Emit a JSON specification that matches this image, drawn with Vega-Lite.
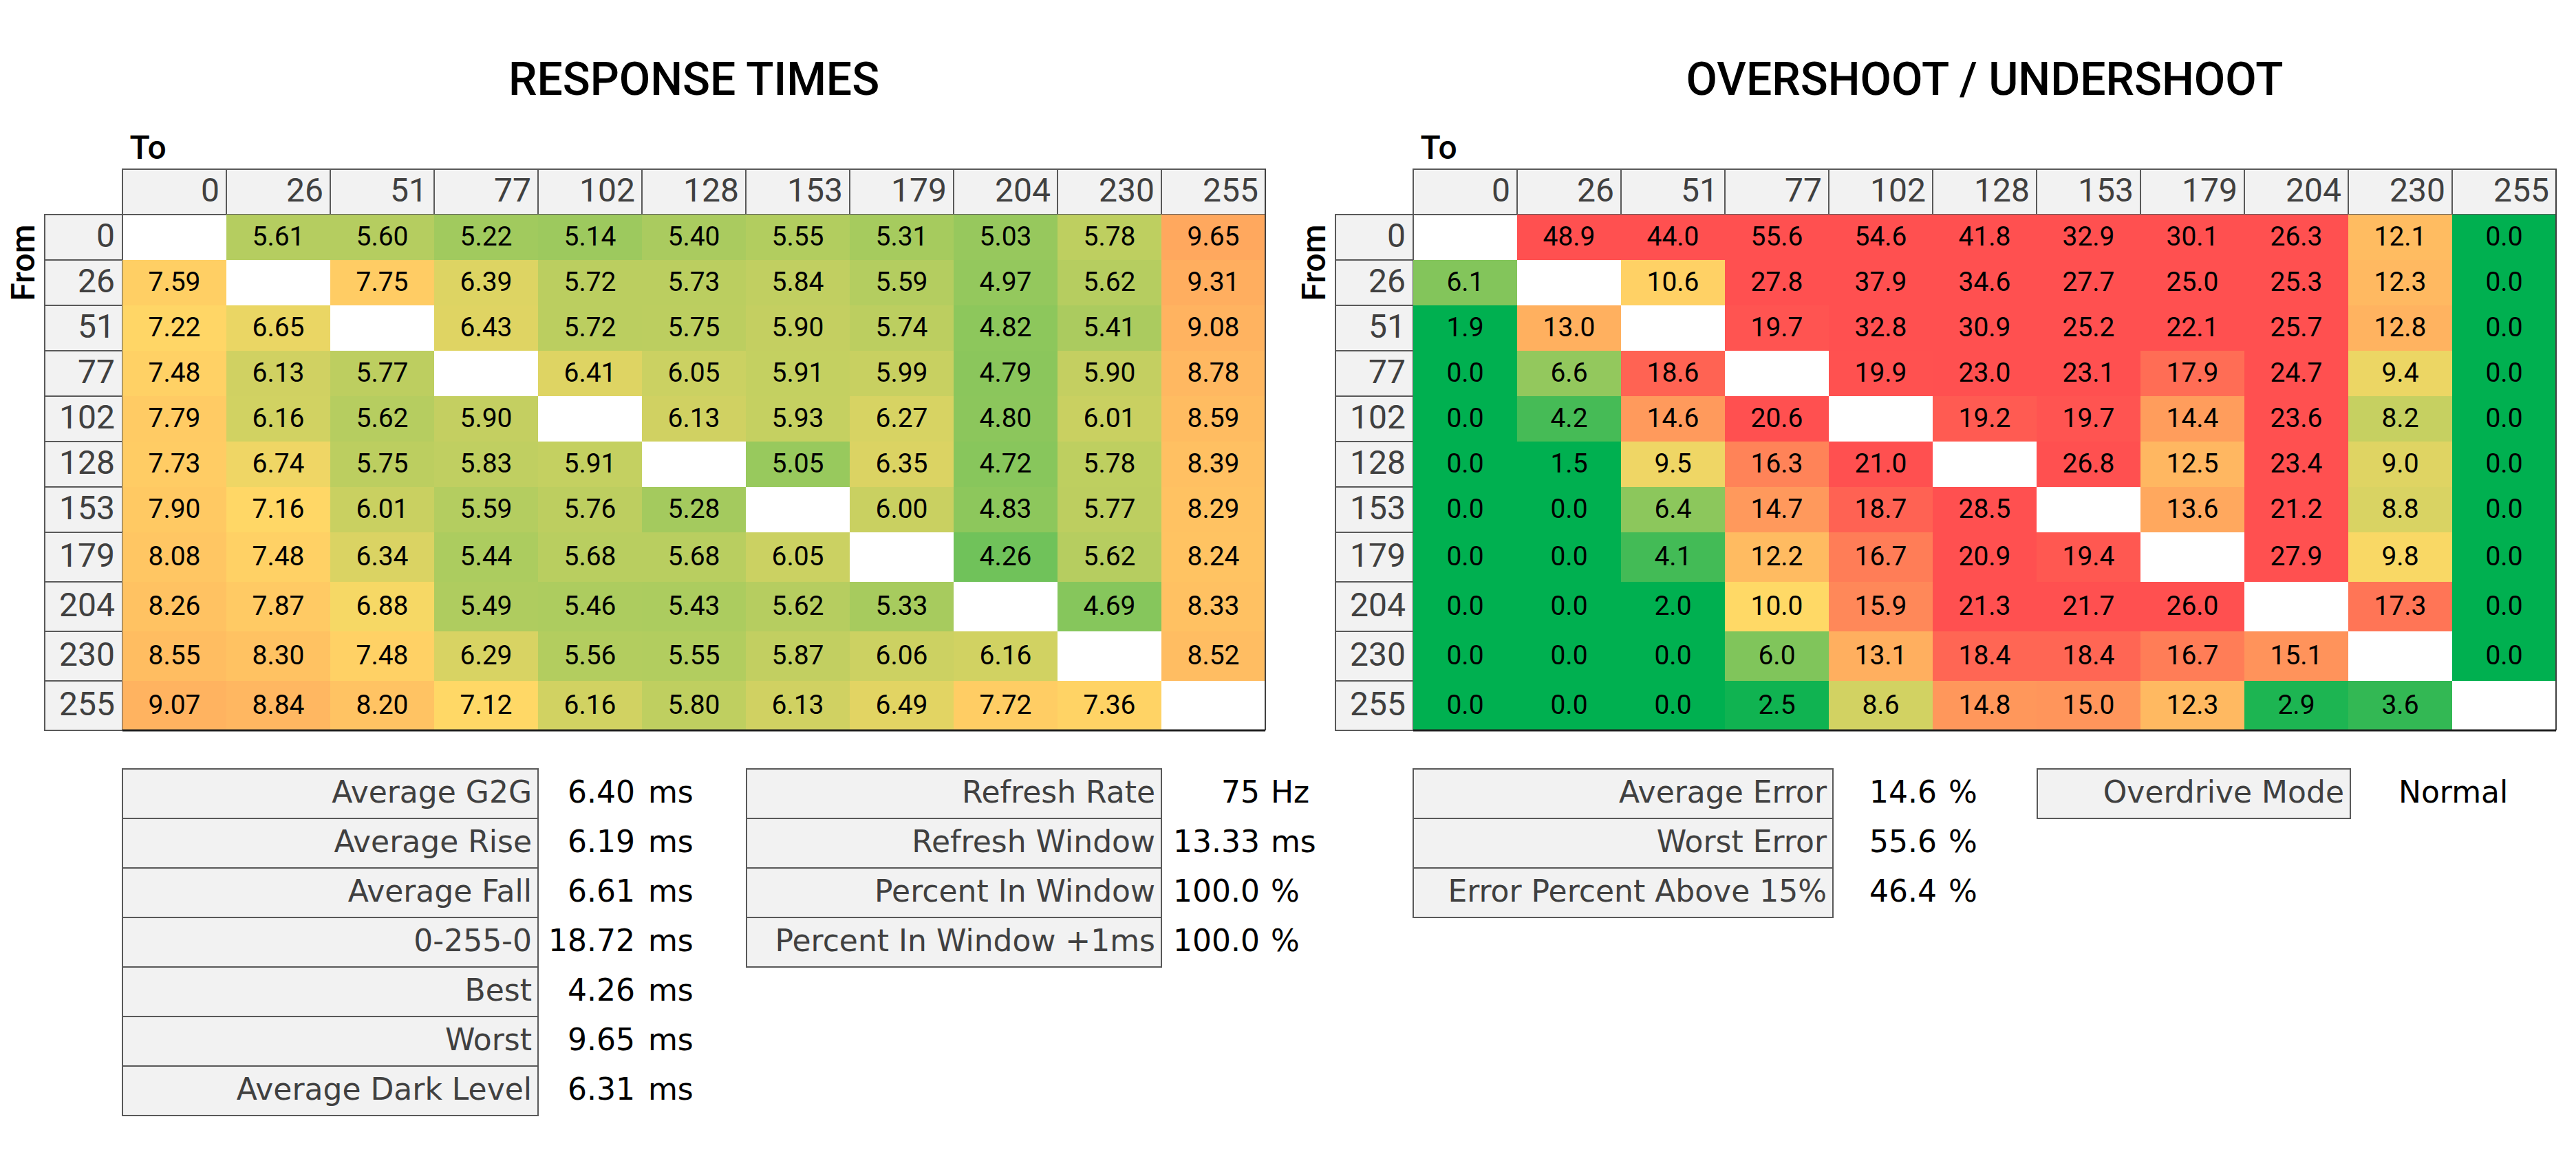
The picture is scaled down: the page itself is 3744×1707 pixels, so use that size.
{
"$schema": "https://vega.github.io/schema/vega-lite/v6.json",
"background": "white",
"padding": {"left": 10, "top": 85, "right": 10, "bottom": 10},
"bounds": "flush",
"align": "each",
"columns": 5,
"spacing": 0,
"resolve": {"scale": {"color": "independent", "x": "independent", "y": "independent"}},
"config": {"view": {"stroke": null}, "font": "Roboto"},
"datasets": {
"lv": [{"lvl":"0"},{"lvl":"26"},{"lvl":"51"},{"lvl":"77"},{"lvl":"102"},{"lvl":"128"},{"lvl":"153"},{"lvl":"179"},{"lvl":"204"},{"lvl":"230"},{"lvl":"255"}],
"rt": [
{"from":"0","to":"26","v":5.61},{"from":"0","to":"51","v":5.60},{"from":"0","to":"77","v":5.22},{"from":"0","to":"102","v":5.14},{"from":"0","to":"128","v":5.40},{"from":"0","to":"153","v":5.55},{"from":"0","to":"179","v":5.31},{"from":"0","to":"204","v":5.03},{"from":"0","to":"230","v":5.78},{"from":"0","to":"255","v":9.65},
{"from":"26","to":"0","v":7.59},{"from":"26","to":"51","v":7.75},{"from":"26","to":"77","v":6.39},{"from":"26","to":"102","v":5.72},{"from":"26","to":"128","v":5.73},{"from":"26","to":"153","v":5.84},{"from":"26","to":"179","v":5.59},{"from":"26","to":"204","v":4.97},{"from":"26","to":"230","v":5.62},{"from":"26","to":"255","v":9.31},
{"from":"51","to":"0","v":7.22},{"from":"51","to":"26","v":6.65},{"from":"51","to":"77","v":6.43},{"from":"51","to":"102","v":5.72},{"from":"51","to":"128","v":5.75},{"from":"51","to":"153","v":5.90},{"from":"51","to":"179","v":5.74},{"from":"51","to":"204","v":4.82},{"from":"51","to":"230","v":5.41},{"from":"51","to":"255","v":9.08},
{"from":"77","to":"0","v":7.48},{"from":"77","to":"26","v":6.13},{"from":"77","to":"51","v":5.77},{"from":"77","to":"102","v":6.41},{"from":"77","to":"128","v":6.05},{"from":"77","to":"153","v":5.91},{"from":"77","to":"179","v":5.99},{"from":"77","to":"204","v":4.79},{"from":"77","to":"230","v":5.90},{"from":"77","to":"255","v":8.78},
{"from":"102","to":"0","v":7.79},{"from":"102","to":"26","v":6.16},{"from":"102","to":"51","v":5.62},{"from":"102","to":"77","v":5.90},{"from":"102","to":"128","v":6.13},{"from":"102","to":"153","v":5.93},{"from":"102","to":"179","v":6.27},{"from":"102","to":"204","v":4.80},{"from":"102","to":"230","v":6.01},{"from":"102","to":"255","v":8.59},
{"from":"128","to":"0","v":7.73},{"from":"128","to":"26","v":6.74},{"from":"128","to":"51","v":5.75},{"from":"128","to":"77","v":5.83},{"from":"128","to":"102","v":5.91},{"from":"128","to":"153","v":5.05},{"from":"128","to":"179","v":6.35},{"from":"128","to":"204","v":4.72},{"from":"128","to":"230","v":5.78},{"from":"128","to":"255","v":8.39},
{"from":"153","to":"0","v":7.90},{"from":"153","to":"26","v":7.16},{"from":"153","to":"51","v":6.01},{"from":"153","to":"77","v":5.59},{"from":"153","to":"102","v":5.76},{"from":"153","to":"128","v":5.28},{"from":"153","to":"179","v":6.00},{"from":"153","to":"204","v":4.83},{"from":"153","to":"230","v":5.77},{"from":"153","to":"255","v":8.29},
{"from":"179","to":"0","v":8.08},{"from":"179","to":"26","v":7.48},{"from":"179","to":"51","v":6.34},{"from":"179","to":"77","v":5.44},{"from":"179","to":"102","v":5.68},{"from":"179","to":"128","v":5.68},{"from":"179","to":"153","v":6.05},{"from":"179","to":"204","v":4.26},{"from":"179","to":"230","v":5.62},{"from":"179","to":"255","v":8.24},
{"from":"204","to":"0","v":8.26},{"from":"204","to":"26","v":7.87},{"from":"204","to":"51","v":6.88},{"from":"204","to":"77","v":5.49},{"from":"204","to":"102","v":5.46},{"from":"204","to":"128","v":5.43},{"from":"204","to":"153","v":5.62},{"from":"204","to":"179","v":5.33},{"from":"204","to":"230","v":4.69},{"from":"204","to":"255","v":8.33},
{"from":"230","to":"0","v":8.55},{"from":"230","to":"26","v":8.30},{"from":"230","to":"51","v":7.48},{"from":"230","to":"77","v":6.29},{"from":"230","to":"102","v":5.56},{"from":"230","to":"128","v":5.55},{"from":"230","to":"153","v":5.87},{"from":"230","to":"179","v":6.06},{"from":"230","to":"204","v":6.16},{"from":"230","to":"255","v":8.52},
{"from":"255","to":"0","v":9.07},{"from":"255","to":"26","v":8.84},{"from":"255","to":"51","v":8.20},{"from":"255","to":"77","v":7.12},{"from":"255","to":"102","v":6.16},{"from":"255","to":"128","v":5.80},{"from":"255","to":"153","v":6.13},{"from":"255","to":"179","v":6.49},{"from":"255","to":"204","v":7.72},{"from":"255","to":"230","v":7.36}
],
"os": [
{"from":"0","to":"26","v":48.9},{"from":"0","to":"51","v":44.0},{"from":"0","to":"77","v":55.6},{"from":"0","to":"102","v":54.6},{"from":"0","to":"128","v":41.8},{"from":"0","to":"153","v":32.9},{"from":"0","to":"179","v":30.1},{"from":"0","to":"204","v":26.3},{"from":"0","to":"230","v":12.1},{"from":"0","to":"255","v":0.0},
{"from":"26","to":"0","v":6.1},{"from":"26","to":"51","v":10.6},{"from":"26","to":"77","v":27.8},{"from":"26","to":"102","v":37.9},{"from":"26","to":"128","v":34.6},{"from":"26","to":"153","v":27.7},{"from":"26","to":"179","v":25.0},{"from":"26","to":"204","v":25.3},{"from":"26","to":"230","v":12.3},{"from":"26","to":"255","v":0.0},
{"from":"51","to":"0","v":1.9},{"from":"51","to":"26","v":13.0},{"from":"51","to":"77","v":19.7},{"from":"51","to":"102","v":32.8},{"from":"51","to":"128","v":30.9},{"from":"51","to":"153","v":25.2},{"from":"51","to":"179","v":22.1},{"from":"51","to":"204","v":25.7},{"from":"51","to":"230","v":12.8},{"from":"51","to":"255","v":0.0},
{"from":"77","to":"0","v":0.0},{"from":"77","to":"26","v":6.6},{"from":"77","to":"51","v":18.6},{"from":"77","to":"102","v":19.9},{"from":"77","to":"128","v":23.0},{"from":"77","to":"153","v":23.1},{"from":"77","to":"179","v":17.9},{"from":"77","to":"204","v":24.7},{"from":"77","to":"230","v":9.4},{"from":"77","to":"255","v":0.0},
{"from":"102","to":"0","v":0.0},{"from":"102","to":"26","v":4.2},{"from":"102","to":"51","v":14.6},{"from":"102","to":"77","v":20.6},{"from":"102","to":"128","v":19.2},{"from":"102","to":"153","v":19.7},{"from":"102","to":"179","v":14.4},{"from":"102","to":"204","v":23.6},{"from":"102","to":"230","v":8.2},{"from":"102","to":"255","v":0.0},
{"from":"128","to":"0","v":0.0},{"from":"128","to":"26","v":1.5},{"from":"128","to":"51","v":9.5},{"from":"128","to":"77","v":16.3},{"from":"128","to":"102","v":21.0},{"from":"128","to":"153","v":26.8},{"from":"128","to":"179","v":12.5},{"from":"128","to":"204","v":23.4},{"from":"128","to":"230","v":9.0},{"from":"128","to":"255","v":0.0},
{"from":"153","to":"0","v":0.0},{"from":"153","to":"26","v":0.0},{"from":"153","to":"51","v":6.4},{"from":"153","to":"77","v":14.7},{"from":"153","to":"102","v":18.7},{"from":"153","to":"128","v":28.5},{"from":"153","to":"179","v":13.6},{"from":"153","to":"204","v":21.2},{"from":"153","to":"230","v":8.8},{"from":"153","to":"255","v":0.0},
{"from":"179","to":"0","v":0.0},{"from":"179","to":"26","v":0.0},{"from":"179","to":"51","v":4.1},{"from":"179","to":"77","v":12.2},{"from":"179","to":"102","v":16.7},{"from":"179","to":"128","v":20.9},{"from":"179","to":"153","v":19.4},{"from":"179","to":"204","v":27.9},{"from":"179","to":"230","v":9.8},{"from":"179","to":"255","v":0.0},
{"from":"204","to":"0","v":0.0},{"from":"204","to":"26","v":0.0},{"from":"204","to":"51","v":2.0},{"from":"204","to":"77","v":10.0},{"from":"204","to":"102","v":15.9},{"from":"204","to":"128","v":21.3},{"from":"204","to":"153","v":21.7},{"from":"204","to":"179","v":26.0},{"from":"204","to":"230","v":17.3},{"from":"204","to":"255","v":0.0},
{"from":"230","to":"0","v":0.0},{"from":"230","to":"26","v":0.0},{"from":"230","to":"51","v":0.0},{"from":"230","to":"77","v":6.0},{"from":"230","to":"102","v":13.1},{"from":"230","to":"128","v":18.4},{"from":"230","to":"153","v":18.4},{"from":"230","to":"179","v":16.7},{"from":"230","to":"204","v":15.1},{"from":"230","to":"255","v":0.0},
{"from":"255","to":"0","v":0.0},{"from":"255","to":"26","v":0.0},{"from":"255","to":"51","v":0.0},{"from":"255","to":"77","v":2.5},{"from":"255","to":"102","v":8.6},{"from":"255","to":"128","v":14.8},{"from":"255","to":"153","v":15.0},{"from":"255","to":"179","v":12.3},{"from":"255","to":"204","v":2.9},{"from":"255","to":"230","v":3.6}
],
"rtA": [
{"label":"Average G2G","num":"6.40","unit":"ms"},
{"label":"Average Rise","num":"6.19","unit":"ms"},
{"label":"Average Fall","num":"6.61","unit":"ms"},
{"label":"0-255-0","num":"18.72","unit":"ms"},
{"label":"Best","num":"4.26","unit":"ms"},
{"label":"Worst","num":"9.65","unit":"ms"},
{"label":"Average Dark Level","num":"6.31","unit":"ms"}
],
"rtB": [
{"label":"Refresh Rate","num":"75","unit":"Hz"},
{"label":"Refresh Window","num":"13.33","unit":"ms"},
{"label":"Percent In Window","num":"100.0","unit":"%"},
{"label":"Percent In Window +1ms","num":"100.0","unit":"%"}
],
"osA": [
{"label":"Average Error","num":"14.6","unit":"%"},
{"label":"Worst Error","num":"55.6","unit":"%"},
{"label":"Error Percent Above 15%","num":"46.4","unit":"%"}
],
"osB": [
{"label":"Overdrive Mode","val":"Normal"}
]
},
"concat": [
{
"width": 113, "height": 528,
"data": {"name": "lv"},
"transform": [{"filter": {"field": "lvl", "oneOf": ["0","26","51","77","102","128","153"]}}],
"encoding": {"y": {"field": "lvl", "type": "ordinal", "scale": {"type": "band", "domain": ["H","0","26","51","77","102","128","153"], "paddingInner": 0, "paddingOuter": 0},
 "axis": {"orient": "left", "title": "From", "labels": false, "ticks": false, "domain": false, "grid": false, "titleAngle": -90, "titleX": -30, "titleY": 80, "titleAlign": "right", "titleBaseline": "middle", "titleFont": "Roboto", "titleFontSize": 48, "titleFontWeight": 500, "titleColor": "#000000"}}},
"layer": [
{"mark": {"type": "rect", "fill": "#f2f2f2", "stroke": "#595959", "strokeWidth": 2}, "encoding": {"x": {"value": 0}, "x2": {"value": "width"}}},
{"mark": {"type": "text", "align": "right", "baseline": "middle", "dx": -11, "font": "Roboto", "fontSize": 48, "color": "#404040"}, "encoding": {"x": {"value": "width"}, "text": {"field": "lvl"}}}
]
},
{
"width": 1661, "height": 528,
"title": {"text": "RESPONSE TIMES", "font": "Roboto", "fontSize": 66, "fontWeight": 500, "color": "#000000", "anchor": "middle", "frame": "group", "offset": 40},
"layer": [
{"data": {"name": "lv"}, "mark": {"type": "rect", "fill": "#f2f2f2", "stroke": "#595959", "strokeWidth": 2},
 "encoding": {
  "x": {"field": "lvl", "type": "ordinal", "scale": {"type": "band", "domain": ["0","26","51","77","102","128","153","179","204","230","255"], "paddingInner": 0, "paddingOuter": 0}, "axis": {"orient": "top", "title": "To", "labels": false, "ticks": false, "domain": false, "grid": false, "titleX": 10, "titleY": -16, "titleAlign": "left", "titleBaseline": "alphabetic", "titleFont": "Roboto", "titleFontSize": 48, "titleFontWeight": 500, "titleColor": "#000000"}},
  "y": {"datum": "H", "type": "ordinal", "scale": {"type": "band", "domain": ["H","0","26","51","77","102","128","153"], "paddingInner": 0, "paddingOuter": 0}, "axis": null}}},
{"data": {"name": "lv"}, "mark": {"type": "text", "align": "right", "baseline": "middle", "dx": -10, "font": "Roboto", "fontSize": 48, "color": "#404040"},
 "encoding": {
  "x": {"field": "lvl", "type": "ordinal", "bandPosition": 1, "scale": {"type": "band", "domain": ["0","26","51","77","102","128","153","179","204","230","255"], "paddingInner": 0, "paddingOuter": 0}, "axis": {"orient": "top", "title": "To", "labels": false, "ticks": false, "domain": false, "grid": false, "titleX": 10, "titleY": -16, "titleAlign": "left", "titleBaseline": "alphabetic", "titleFont": "Roboto", "titleFontSize": 48, "titleFontWeight": 500, "titleColor": "#000000"}},
  "y": {"datum": "H", "type": "ordinal", "scale": {"type": "band", "domain": ["H","0","26","51","77","102","128","153"], "paddingInner": 0, "paddingOuter": 0}, "axis": null},
  "text": {"field": "lvl"}}},
{"data": {"name": "rt"}, "transform": [{"filter": {"field": "from", "oneOf": ["0","26","51","77","102","128","153"]}}], "mark": {"type": "rect"},
 "encoding": {
  "x": {"field": "to", "type": "ordinal", "scale": {"type": "band", "domain": ["0","26","51","77","102","128","153","179","204","230","255"], "paddingInner": 0, "paddingOuter": 0}, "axis": {"orient": "top", "title": "To", "labels": false, "ticks": false, "domain": false, "grid": false, "titleX": 10, "titleY": -16, "titleAlign": "left", "titleBaseline": "alphabetic", "titleFont": "Roboto", "titleFontSize": 48, "titleFontWeight": 500, "titleColor": "#000000"}},
  "y": {"field": "from", "type": "ordinal", "scale": {"type": "band", "domain": ["H","0","26","51","77","102","128","153"], "paddingInner": 0, "paddingOuter": 0}, "axis": null},
  "color": {"field": "v", "type": "quantitative", "scale": {"type": "linear", "domain": [2.06, 7.06, 14.3], "range": ["#00b050", "#ffd966", "#ff5050"], "interpolate": "rgb", "clamp": true, "nice": false, "zero": false}, "legend": null}}},
{"data": {"name": "rt"}, "transform": [{"filter": {"field": "from", "oneOf": ["0","26","51","77","102","128","153"]}}], "mark": {"type": "text", "baseline": "middle", "font": "Roboto", "fontSize": 39, "color": "#000000"},
 "encoding": {
  "x": {"field": "to", "type": "ordinal", "scale": {"type": "band", "domain": ["0","26","51","77","102","128","153","179","204","230","255"], "paddingInner": 0, "paddingOuter": 0}, "axis": {"orient": "top", "title": "To", "labels": false, "ticks": false, "domain": false, "grid": false, "titleX": 10, "titleY": -16, "titleAlign": "left", "titleBaseline": "alphabetic", "titleFont": "Roboto", "titleFontSize": 48, "titleFontWeight": 500, "titleColor": "#000000"}},
  "y": {"field": "from", "type": "ordinal", "scale": {"type": "band", "domain": ["H","0","26","51","77","102","128","153"], "paddingInner": 0, "paddingOuter": 0}, "axis": null},
  "text": {"field": "v", "type": "quantitative", "format": ".2f"}}},
{"data": {"name": "lv"}, "transform": [{"aggregate": [{"op": "count", "as": "n"}]}], "mark": {"type": "rule", "color": "#404040", "strokeWidth": 2},
 "encoding": {"x": {"value": "width"}, "y": {"value": 0}, "y2": {"value": "height"}}}
]
},
{
"width": 102, "height": 528,
"data": {"name": "lv"},
"transform": [{"filter": "false"}],
"mark": "point",
"encoding": {"x": {"value": 0}, "y": {"value": 0}}
},
{
"width": 113, "height": 528,
"data": {"name": "lv"},
"transform": [{"filter": {"field": "lvl", "oneOf": ["0","26","51","77","102","128","153"]}}],
"encoding": {"y": {"field": "lvl", "type": "ordinal", "scale": {"type": "band", "domain": ["H","0","26","51","77","102","128","153"], "paddingInner": 0, "paddingOuter": 0},
 "axis": {"orient": "left", "title": "From", "labels": false, "ticks": false, "domain": false, "grid": false, "titleAngle": -90, "titleX": -30, "titleY": 80, "titleAlign": "right", "titleBaseline": "middle", "titleFont": "Roboto", "titleFontSize": 48, "titleFontWeight": 500, "titleColor": "#000000"}}},
"layer": [
{"mark": {"type": "rect", "fill": "#f2f2f2", "stroke": "#595959", "strokeWidth": 2}, "encoding": {"x": {"value": 0}, "x2": {"value": "width"}}},
{"mark": {"type": "text", "align": "right", "baseline": "middle", "dx": -11, "font": "Roboto", "fontSize": 48, "color": "#404040"}, "encoding": {"x": {"value": "width"}, "text": {"field": "lvl"}}}
]
},
{
"width": 1661, "height": 528,
"title": {"text": "OVERSHOOT / UNDERSHOOT", "font": "Roboto", "fontSize": 66, "fontWeight": 500, "color": "#000000", "anchor": "middle", "frame": "group", "offset": 40},
"layer": [
{"data": {"name": "lv"}, "mark": {"type": "rect", "fill": "#f2f2f2", "stroke": "#595959", "strokeWidth": 2},
 "encoding": {
  "x": {"field": "lvl", "type": "ordinal", "scale": {"type": "band", "domain": ["0","26","51","77","102","128","153","179","204","230","255"], "paddingInner": 0, "paddingOuter": 0}, "axis": {"orient": "top", "title": "To", "labels": false, "ticks": false, "domain": false, "grid": false, "titleX": 10, "titleY": -16, "titleAlign": "left", "titleBaseline": "alphabetic", "titleFont": "Roboto", "titleFontSize": 48, "titleFontWeight": 500, "titleColor": "#000000"}},
  "y": {"datum": "H", "type": "ordinal", "scale": {"type": "band", "domain": ["H","0","26","51","77","102","128","153"], "paddingInner": 0, "paddingOuter": 0}, "axis": null}}},
{"data": {"name": "lv"}, "mark": {"type": "text", "align": "right", "baseline": "middle", "dx": -10, "font": "Roboto", "fontSize": 48, "color": "#404040"},
 "encoding": {
  "x": {"field": "lvl", "type": "ordinal", "bandPosition": 1, "scale": {"type": "band", "domain": ["0","26","51","77","102","128","153","179","204","230","255"], "paddingInner": 0, "paddingOuter": 0}, "axis": {"orient": "top", "title": "To", "labels": false, "ticks": false, "domain": false, "grid": false, "titleX": 10, "titleY": -16, "titleAlign": "left", "titleBaseline": "alphabetic", "titleFont": "Roboto", "titleFontSize": 48, "titleFontWeight": 500, "titleColor": "#000000"}},
  "y": {"datum": "H", "type": "ordinal", "scale": {"type": "band", "domain": ["H","0","26","51","77","102","128","153"], "paddingInner": 0, "paddingOuter": 0}, "axis": null},
  "text": {"field": "lvl"}}},
{"data": {"name": "os"}, "transform": [{"filter": {"field": "from", "oneOf": ["0","26","51","77","102","128","153"]}}], "mark": {"type": "rect"},
 "encoding": {
  "x": {"field": "to", "type": "ordinal", "scale": {"type": "band", "domain": ["0","26","51","77","102","128","153","179","204","230","255"], "paddingInner": 0, "paddingOuter": 0}, "axis": {"orient": "top", "title": "To", "labels": false, "ticks": false, "domain": false, "grid": false, "titleX": 10, "titleY": -16, "titleAlign": "left", "titleBaseline": "alphabetic", "titleFont": "Roboto", "titleFontSize": 48, "titleFontWeight": 500, "titleColor": "#000000"}},
  "y": {"field": "from", "type": "ordinal", "scale": {"type": "band", "domain": ["H","0","26","51","77","102","128","153"], "paddingInner": 0, "paddingOuter": 0}, "axis": null},
  "color": {"field": "v", "type": "quantitative", "scale": {"type": "linear", "domain": [2, 10, 20], "range": ["#00b050", "#ffd966", "#ff5050"], "interpolate": "rgb", "clamp": true, "nice": false, "zero": false}, "legend": null}}},
{"data": {"name": "os"}, "transform": [{"filter": {"field": "from", "oneOf": ["0","26","51","77","102","128","153"]}}], "mark": {"type": "text", "baseline": "middle", "font": "Roboto", "fontSize": 39, "color": "#000000"},
 "encoding": {
  "x": {"field": "to", "type": "ordinal", "scale": {"type": "band", "domain": ["0","26","51","77","102","128","153","179","204","230","255"], "paddingInner": 0, "paddingOuter": 0}, "axis": {"orient": "top", "title": "To", "labels": false, "ticks": false, "domain": false, "grid": false, "titleX": 10, "titleY": -16, "titleAlign": "left", "titleBaseline": "alphabetic", "titleFont": "Roboto", "titleFontSize": 48, "titleFontWeight": 500, "titleColor": "#000000"}},
  "y": {"field": "from", "type": "ordinal", "scale": {"type": "band", "domain": ["H","0","26","51","77","102","128","153"], "paddingInner": 0, "paddingOuter": 0}, "axis": null},
  "text": {"field": "v", "type": "quantitative", "format": ".1f"}}},
{"data": {"name": "lv"}, "transform": [{"aggregate": [{"op": "count", "as": "n"}]}], "mark": {"type": "rule", "color": "#404040", "strokeWidth": 2},
 "encoding": {"x": {"value": "width"}, "y": {"value": 0}, "y2": {"value": "height"}}}
]
},
{
"width": 113, "height": 288,
"data": {"name": "lv"},
"transform": [{"filter": {"field": "lvl", "oneOf": ["179","204","230","255"]}}],
"encoding": {"y": {"field": "lvl", "type": "ordinal", "scale": {"type": "band", "domain": ["179","204","230","255"], "paddingInner": 0, "paddingOuter": 0}, "axis": null}},
"layer": [
{"mark": {"type": "rect", "fill": "#f2f2f2", "stroke": "#595959", "strokeWidth": 2}, "encoding": {"x": {"value": 0}, "x2": {"value": "width"}}},
{"mark": {"type": "text", "align": "right", "baseline": "middle", "dx": -11, "font": "Roboto", "fontSize": 48, "color": "#404040"}, "encoding": {"x": {"value": "width"}, "text": {"field": "lvl"}}}
]
},
{
"bounds": "flush",
"spacing": 56,
"resolve": {"scale": {"color": "independent"}},
"vconcat": [
{
"width": 1661, "height": 288,
"layer": [
{"data": {"name": "rt"}, "transform": [{"filter": {"field": "from", "oneOf": ["179","204","230","255"]}}], "mark": {"type": "rect"},
 "encoding": {
  "x": {"field": "to", "type": "ordinal", "scale": {"type": "band", "domain": ["0","26","51","77","102","128","153","179","204","230","255"], "paddingInner": 0, "paddingOuter": 0}, "axis": null},
  "y": {"field": "from", "type": "ordinal", "scale": {"type": "band", "domain": ["179","204","230","255"], "paddingInner": 0, "paddingOuter": 0}, "axis": null},
  "color": {"field": "v", "type": "quantitative", "scale": {"type": "linear", "domain": [2.06, 7.06, 14.3], "range": ["#00b050", "#ffd966", "#ff5050"], "interpolate": "rgb", "clamp": true, "nice": false, "zero": false}, "legend": null}}},
{"data": {"name": "rt"}, "transform": [{"filter": {"field": "from", "oneOf": ["179","204","230","255"]}}], "mark": {"type": "text", "baseline": "middle", "font": "Roboto", "fontSize": 39, "color": "#000000"},
 "encoding": {
  "x": {"field": "to", "type": "ordinal", "scale": {"type": "band", "domain": ["0","26","51","77","102","128","153","179","204","230","255"], "paddingInner": 0, "paddingOuter": 0}, "axis": null},
  "y": {"field": "from", "type": "ordinal", "scale": {"type": "band", "domain": ["179","204","230","255"], "paddingInner": 0, "paddingOuter": 0}, "axis": null},
  "text": {"field": "v", "type": "quantitative", "format": ".2f"}}},
{"data": {"name": "lv"}, "transform": [{"aggregate": [{"op": "count", "as": "n"}]}], "mark": {"type": "rule", "color": "#404040", "strokeWidth": 2},
 "encoding": {"x": {"value": "width"}, "y": {"value": 0}, "y2": {"value": "height"}}},
{"data": {"name": "lv"}, "transform": [{"aggregate": [{"op": "count", "as": "n"}]}], "mark": {"type": "rule", "color": "#202020", "strokeWidth": 3},
 "encoding": {"x": {"value": 0}, "x2": {"value": "width"}, "y": {"value": "height"}}}
]
},
{
"bounds": "flush",
"spacing": 303,
"hconcat": [
{
"width": 604, "height": 504,
"data": {"name": "rtA"},
"encoding": {"y": {"field": "label", "type": "nominal", "sort": null, "scale": {"type": "band", "paddingInner": 0, "paddingOuter": 0}, "axis": null}},
"layer": [
{"mark": {"type": "rect", "fill": "#f2f2f2", "stroke": "#595959", "strokeWidth": 2}, "encoding": {"x": {"value": 0}, "x2": {"value": "width"}}},
{"mark": {"type": "text", "align": "right", "baseline": "middle", "dx": -9, "font": "DejaVu Sans", "fontSize": 44, "color": "#404040"}, "encoding": {"x": {"value": "width"}, "text": {"field": "label"}}},
{"mark": {"type": "text", "align": "right", "baseline": "middle", "dx": 141, "font": "DejaVu Sans", "fontSize": 44, "color": "#000000"}, "encoding": {"x": {"value": "width"}, "text": {"field": "num"}}},
{"mark": {"type": "text", "align": "left", "baseline": "middle", "dx": 160, "font": "DejaVu Sans", "fontSize": 44, "color": "#000000"}, "encoding": {"x": {"value": "width"}, "text": {"field": "unit"}}}
]
},
{
"width": 603, "height": 288,
"data": {"name": "rtB"},
"encoding": {"y": {"field": "label", "type": "nominal", "sort": null, "scale": {"type": "band", "paddingInner": 0, "paddingOuter": 0}, "axis": null}},
"layer": [
{"mark": {"type": "rect", "fill": "#f2f2f2", "stroke": "#595959", "strokeWidth": 2}, "encoding": {"x": {"value": 0}, "x2": {"value": "width"}}},
{"mark": {"type": "text", "align": "right", "baseline": "middle", "dx": -9, "font": "DejaVu Sans", "fontSize": 44, "color": "#404040"}, "encoding": {"x": {"value": "width"}, "text": {"field": "label"}}},
{"mark": {"type": "text", "align": "right", "baseline": "middle", "dx": 143, "font": "DejaVu Sans", "fontSize": 44, "color": "#000000"}, "encoding": {"x": {"value": "width"}, "text": {"field": "num"}}},
{"mark": {"type": "text", "align": "left", "baseline": "middle", "dx": 159, "font": "DejaVu Sans", "fontSize": 44, "color": "#000000"}, "encoding": {"x": {"value": "width"}, "text": {"field": "unit"}}}
]
}
]
}
]
},
{
"width": 102, "height": 288,
"data": {"name": "lv"},
"transform": [{"filter": "false"}],
"mark": "point",
"encoding": {"x": {"value": 0}, "y": {"value": 0}}
},
{
"width": 113, "height": 288,
"data": {"name": "lv"},
"transform": [{"filter": {"field": "lvl", "oneOf": ["179","204","230","255"]}}],
"encoding": {"y": {"field": "lvl", "type": "ordinal", "scale": {"type": "band", "domain": ["179","204","230","255"], "paddingInner": 0, "paddingOuter": 0}, "axis": null}},
"layer": [
{"mark": {"type": "rect", "fill": "#f2f2f2", "stroke": "#595959", "strokeWidth": 2}, "encoding": {"x": {"value": 0}, "x2": {"value": "width"}}},
{"mark": {"type": "text", "align": "right", "baseline": "middle", "dx": -11, "font": "Roboto", "fontSize": 48, "color": "#404040"}, "encoding": {"x": {"value": "width"}, "text": {"field": "lvl"}}}
]
},
{
"bounds": "flush",
"spacing": 56,
"resolve": {"scale": {"color": "independent"}},
"vconcat": [
{
"width": 1661, "height": 288,
"layer": [
{"data": {"name": "os"}, "transform": [{"filter": {"field": "from", "oneOf": ["179","204","230","255"]}}], "mark": {"type": "rect"},
 "encoding": {
  "x": {"field": "to", "type": "ordinal", "scale": {"type": "band", "domain": ["0","26","51","77","102","128","153","179","204","230","255"], "paddingInner": 0, "paddingOuter": 0}, "axis": null},
  "y": {"field": "from", "type": "ordinal", "scale": {"type": "band", "domain": ["179","204","230","255"], "paddingInner": 0, "paddingOuter": 0}, "axis": null},
  "color": {"field": "v", "type": "quantitative", "scale": {"type": "linear", "domain": [2, 10, 20], "range": ["#00b050", "#ffd966", "#ff5050"], "interpolate": "rgb", "clamp": true, "nice": false, "zero": false}, "legend": null}}},
{"data": {"name": "os"}, "transform": [{"filter": {"field": "from", "oneOf": ["179","204","230","255"]}}], "mark": {"type": "text", "baseline": "middle", "font": "Roboto", "fontSize": 39, "color": "#000000"},
 "encoding": {
  "x": {"field": "to", "type": "ordinal", "scale": {"type": "band", "domain": ["0","26","51","77","102","128","153","179","204","230","255"], "paddingInner": 0, "paddingOuter": 0}, "axis": null},
  "y": {"field": "from", "type": "ordinal", "scale": {"type": "band", "domain": ["179","204","230","255"], "paddingInner": 0, "paddingOuter": 0}, "axis": null},
  "text": {"field": "v", "type": "quantitative", "format": ".1f"}}},
{"data": {"name": "lv"}, "transform": [{"aggregate": [{"op": "count", "as": "n"}]}], "mark": {"type": "rule", "color": "#404040", "strokeWidth": 2},
 "encoding": {"x": {"value": "width"}, "y": {"value": 0}, "y2": {"value": "height"}}},
{"data": {"name": "lv"}, "transform": [{"aggregate": [{"op": "count", "as": "n"}]}], "mark": {"type": "rule", "color": "#202020", "strokeWidth": 3},
 "encoding": {"x": {"value": 0}, "x2": {"value": "width"}, "y": {"value": "height"}}}
]
},
{
"bounds": "flush",
"spacing": 297,
"hconcat": [
{
"width": 610, "height": 216,
"data": {"name": "osA"},
"encoding": {"y": {"field": "label", "type": "nominal", "sort": null, "scale": {"type": "band", "paddingInner": 0, "paddingOuter": 0}, "axis": null}},
"layer": [
{"mark": {"type": "rect", "fill": "#f2f2f2", "stroke": "#595959", "strokeWidth": 2}, "encoding": {"x": {"value": 0}, "x2": {"value": "width"}}},
{"mark": {"type": "text", "align": "right", "baseline": "middle", "dx": -9, "font": "DejaVu Sans", "fontSize": 44, "color": "#404040"}, "encoding": {"x": {"value": "width"}, "text": {"field": "label"}}},
{"mark": {"type": "text", "align": "right", "baseline": "middle", "dx": 151, "font": "DejaVu Sans", "fontSize": 44, "color": "#000000"}, "encoding": {"x": {"value": "width"}, "text": {"field": "num"}}},
{"mark": {"type": "text", "align": "left", "baseline": "middle", "dx": 168, "font": "DejaVu Sans", "fontSize": 44, "color": "#000000"}, "encoding": {"x": {"value": "width"}, "text": {"field": "unit"}}}
]
},
{
"width": 455, "height": 72,
"data": {"name": "osB"},
"encoding": {"y": {"field": "label", "type": "nominal", "sort": null, "scale": {"type": "band", "paddingInner": 0, "paddingOuter": 0}, "axis": null}},
"layer": [
{"mark": {"type": "rect", "fill": "#f2f2f2", "stroke": "#595959", "strokeWidth": 2}, "encoding": {"x": {"value": 0}, "x2": {"value": "width"}}},
{"mark": {"type": "text", "align": "right", "baseline": "middle", "dx": -9, "font": "DejaVu Sans", "fontSize": 44, "color": "#404040"}, "encoding": {"x": {"value": "width"}, "text": {"field": "label"}}},
{"mark": {"type": "text", "align": "left", "baseline": "middle", "dx": 70, "font": "DejaVu Sans", "fontSize": 44, "color": "#000000"}, "encoding": {"x": {"value": "width"}, "text": {"field": "val"}}}
]
}
]
}
]
}
]
}
